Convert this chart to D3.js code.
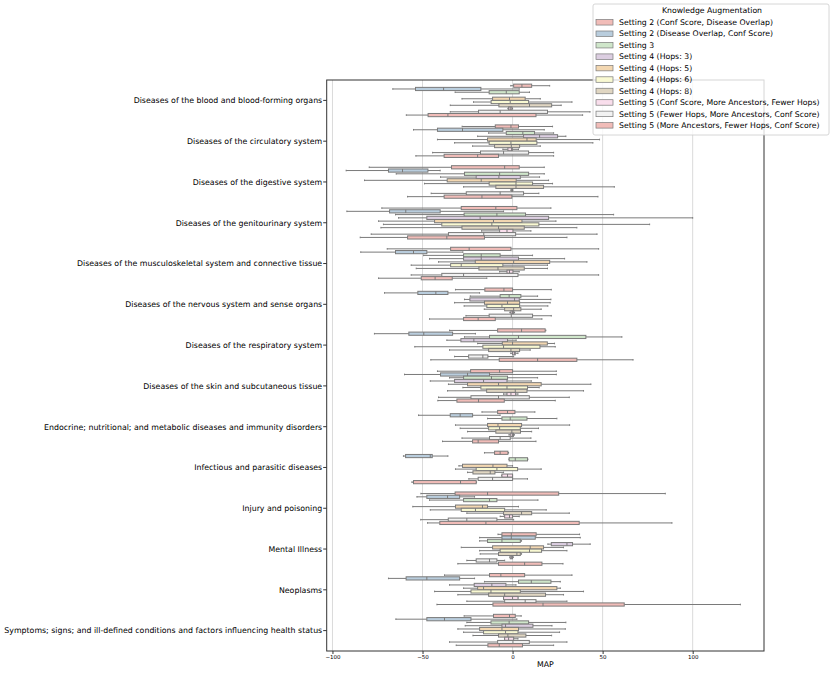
<!DOCTYPE html>
<html>
<head>
<meta charset="utf-8">
<script src="https://cdnjs.cloudflare.com/ajax/libs/d3/7.8.4/d3.min.js"></script>
<style>
body { margin: 0; background: #fff; }
svg text { font-family: "DejaVu Sans", sans-serif; fill: #000; }
</style>
</head>
<body>
<div id="chart"></div>
<script>
// categories on the y axis
const categories = [
  "Diseases of the blood and blood-forming organs",
  "Diseases of the circulatory system",
  "Diseases of the digestive system",
  "Diseases of the genitourinary system",
  "Diseases of the musculoskeletal system and connective tissue",
  "Diseases of the nervous system and sense organs",
  "Diseases of the respiratory system",
  "Diseases of the skin and subcutaneous tissue",
  "Endocrine; nutritional; and metabolic diseases and immunity disorders",
  "Infectious and parasitic diseases",
  "Injury and poisoning",
  "Mental Illness",
  "Neoplasms",
  "Symptoms; signs; and ill-defined conditions and factors influencing health status"
];

const hues = [
  "Setting 2 (Conf Score, Disease Overlap)",
  "Setting 2 (Disease Overlap, Conf Score)",
  "Setting 3",
  "Setting 4 (Hops: 3)",
  "Setting 4 (Hops: 5)",
  "Setting 4 (Hops: 6)",
  "Setting 4 (Hops: 8)",
  "Setting 5 (Conf Score, More Ancestors, Fewer Hops)",
  "Setting 5 (Fewer Hops, More Ancestors, Conf Score)",
  "Setting 5 (More Ancestors, Fewer Hops, Conf Score)"
];

// Pastel1, wraps round for the 10th level
const palette = ["#fbb4ae", "#b3cde3", "#ccebc5", "#decbe4", "#fed9a6",
                 "#ffffcc", "#e5d8bd", "#fddaec", "#f2f2f2", "#fbb4ae"];

// each entry: [whisker low, q1, median, q3, whisker high], one per category (null = no data)
const s2ConfOverlap = [
  [-1, 0.6, 5.2, 10.6, 20.6], [-28, -9.6, -0.9, 3.3, 22.2], [-79.6, -33.9, -4.4, 3.7, 17.6],
  [-72.6, -28.5, -9.3, 2.4, 21.3], [-69.6, -34.4, -24.1, -0.9, 47.8], [-31.7, -15.4, -4.8, 0, 21.5],
  [-35, -8.3, 5, 18.1, 18.5], [-41.7, -23.3, -7.2, 0, 24.3], [-17, -8.3, -2.8, 1.3, 12.4],
  [-15.6, -10, -6.9, -2.6, -2.2], [-50.9, -31.9, -13.9, 25.6, 84.8], [-8.1, -5.9, -0.7, 13.1, 37.2],
  [-37.8, -12.8, -6.5, 6.7, 33], [-26.9, -10.6, -1.7, 1.5, 4.8]
];
const s2OverlapConf = [
  [-66.5, -53.9, -38.3, -17.6, 3.7], [-55, -41.7, -27.8, -5.4, 17.6], [-92.4, -68.9, -61.1, -47, -40.2],
  [-92, -68.3, -59.3, -40.2, -5], [-84.3, -65, -55, -47.6, -27.6], [-71.1, -52.6, -42.6, -35.9, -18.3],
  [-76.7, -57.6, -49.3, -33.3, -20.6], [-60, -40, -25, -12.8, 24.3], [-52.2, -34.6, -29.1, -22.2, -6.9],
  [-60.6, -59.4, -45.7, -44.6, -35.9], [-53.1, -47.6, -36.1, -29.4, -21.1], [-18.3, -5.9, -0.7, 12.6, 37.6],
  [-68.9, -59.1, -47.6, -29.4, -21.1], [-64.8, -47.6, -37.8, -23.1, 2.4]
];
const s3 = [
  [-31.9, -13, -3.5, 3.7, 9.4], [-13.3, -3.5, 5.7, 12.2, 22.8], [-64.6, -26.7, -7.2, 8.9, 17.6],
  [-65, -26.9, -8.7, 7.2, 56.1], [-49.4, -27.2, -17.4, -6.9, 11.1], [-23.5, -6.9, -1.9, 4.6, 13.9],
  [-26.7, -12.8, 3.3, 40.7, 60.7], [-35, -27.2, -11.7, -2.8, 13.9], [-13.9, -5.9, -1.3, 8, 24.6],
  [-2, -1.9, 1.5, 8.3, 8.5], [-46.1, -27.2, -12.8, -8.7, 14.1], [-18.3, -13.9, -5.9, 4.3, 5],
  [-15.6, 3.3, 10.4, 21.3, 26.5], [-25.4, -12, -1.9, 8.9, 29.6]
];
const s4Hops3 = [
  null, [-19.4, 6.1, 15, 25, 29.6], [-40, -20.2, -7.6, 4.3, 15],
  [-63.3, -47.6, -18, 20, 100], [-46.1, -27.2, -17.4, 3.3, 28.9], [-26.7, -23.7, 1.1, 3.7, 21.3],
  [-36.5, -28.7, -21.5, -2.8, 2], [-45.7, -32.2, -16.1, -3.1, 10.4], null,
  null, null, [19.6, 21.5, 30.2, 33.3, 43.1],
  [-35, -21.3, -11.5, -3.7, 1.9], [-26.3, -5.9, -3.9, 11.3, 21.9]
];
const s4Hops5 = [
  [-28.1, -11.1, -1.7, 7, 15.4], [-41.7, -13.9, 8, 13.1, 48.3], [-82.2, -36.3, -17.4, 2, 20],
  [-74.4, -43.3, -10.6, 5.2, 24.1], [-41.1, -20.7, 0.6, 20.6, 41.3], [-32.2, -15.6, -2.8, 3.9, 20.9],
  [-19.4, -5.7, 0, 19.3, 23.3], [-35.6, -25, -7.8, 15.9, 43.5], [-31.7, -13.9, -8.1, 5, 31.7],
  [-29.8, -27.8, -10.9, -3.1, 0], [-55.4, -31.7, -16.7, -13.9, 3.3], [-28.5, -11.1, 9.8, 17.2, 28.3],
  [-27.2, -19.4, -16.1, 24.6, 26.5], [-30.4, -18.3, -5.9, 3.3, 29.3]
];
const s4Hops6 = [
  [-21.7, -11.9, -1.3, 8.9, 33], [-32.2, -13, -0.9, 13.5, 44.6], [-48.9, -13, 1.9, 11.1, 22.2],
  [-71.7, -39.3, -11.5, 14.6, 76.1], [-56.3, -34.4, -28.5, -5.4, 19.4], [-26.9, -14.3, -5.9, 3.9, 19.6],
  [-54.3, -16.5, -5, 15.2, 23.7], [-27.6, -17.6, -3.1, 8.3, 14.8], [-29.1, -13.3, -7.2, 4.3, 14.4],
  [-31.7, -20.2, -8.7, 2.8, 15.9], [-45.7, -28.5, -20.6, -4.4, 18.7], [-18.3, -6.9, 9.4, 16.1, 30.2],
  [-43.3, -23.1, -12, 4.3, 39.4], [-27.2, -16.1, -3.9, 3, 26.1]
];
const s4Hops8 = [
  [-34.6, -7.6, 9.4, 21.7, 27], [-22.2, -10, -0.7, 3.9, 15.4], [-27.2, -9.3, 1.9, 17.2, 56.5],
  [-73.1, -28.1, -7.8, 6.5, 35.7], [-53.5, -18.7, -8.1, 6.5, 19.4], [-15.7, -4.4, 0.6, 4.6, 15.9],
  [-35, -13.3, -0.9, 3.9, 9.8], [-36.1, -14.4, 1.5, 8, 39.4], [-25, -9.3, -0.4, 4.4, 10.6],
  [-25, -22, -12.4, -9.8, -5], [-25.4, -5, 5, 10.6, 31.5], [-18, -7.8, 2.4, 4.3, 5],
  [-30.4, -13.3, -4.4, 18.3, 28.3], [-22, -7.8, -2.6, 7.4, 21.7]
];
const s5ConfAncFewer = [
  [-2.6, -2.2, -1.3, -0.4, 0], [-5.4, -2.6, -0.5, -0.2, 3.3], [-1, -0.5, -0.2, 0, 0.2],
  [-17.2, -7.2, -3.1, 0.2, 10.2], [-7.2, -3.1, -1.7, 0.2, 3.7], [-1.5, -0.9, 0, 0.6, 1.1],
  [-1, 0, 1, 1.5, 3], [-5, -3.1, -0.9, 1.7, 3], [-2, -1, 0, 0.5, 1],
  [-6, -5.9, -2.8, 0, 0], [-6.9, -4.4, -1.7, 0, 3.7], [-1.5, -1.3, -0.5, 0, 0.4],
  [-5, -5, 0, 3, 3], [-4.4, -4.4, -2.2, 0.6, 3]
];
const s5FewerAncConf = [
  [-34.6, -18.9, -6.9, 19.4, 43], [-44.4, -17.8, -5, 8.9, 22.8], [-45.2, -25.7, -6.9, 6.1, 14.6],
  [-78.5, -35.6, -16, 1.7, 46.9], [-56.3, -39.3, -27.2, 3, 47.8], [-25.9, -13, -0.7, 11.1, 21.5],
  [-32.2, -24.4, -16.5, -13.7, 0.6], [-41.1, -23.1, -7.8, 9.3, 31.5], [-28.1, -12.8, -6.9, -1.3, 10.2],
  [-24.3, -19.1, -11.1, 0, 8.3], [-51, -35.7, -25.4, -8.7, 0.6], [-25.4, -20.2, -12.8, -8.7, -4.4],
  [-25.4, -4.4, 7, 13, 30.2], [-35, -8.3, 0.2, 9.3, 30.2]
];
const s5AncFewerConf = [
  [-59, -46.9, -35.9, 13, 38.9], [-53.7, -38, -19.4, -7.8, 22.8], [-58.3, -38, -17, -0.4, 47.4],
  [-84.6, -58.3, -36.5, -15.6, 30.2], [-74.4, -50.7, -43, -33.5, -14.3], [-46.1, -27.2, -19.1, -9.6, 16.3],
  [-45.4, -7.4, 13.9, 35.7, 66.9], [-41.5, -30.9, -18.9, -4.6, 23.7], [-38.9, -22.2, -19.1, -7.8, 13],
  [-55.9, -55, -28.9, -20.2, -20], [-47.2, -40.4, -14.8, 37, 88.5], [-30.4, -7.8, 6.7, 16.3, 28],
  [-42, -10.9, 16.9, 62, 126.5], [-31.3, -13.7, -7.4, 5.5, 22.8]
];

const xTicks = [-100, -50, 0, 50, 100];

const series = [s2ConfOverlap, s2OverlapConf, s3, s4Hops3, s4Hops5,
                s4Hops6, s4Hops8, s5ConfAncFewer, s5FewerAncConf, s5AncFewerConf];

// seaborn-style desaturation of the palette
const desat = c => { const h = d3.hsl(c); h.s *= 0.75; return h.formatHex(); };
const colors = palette.map(desat);
const lineGray = "#7a7a7a";

const width = 830, height = 673;
const plot = {left: 326.7, right: 764, top: 80, bottom: 651};

const svg = d3.select("#chart").append("svg")
  .attr("width", width)
  .attr("height", height);

const x = d3.scaleLinear().domain([-103.2, 139.6]).range([plot.left, plot.right]);
const y = d3.scaleBand().domain(categories).range([plot.top, plot.bottom]);
const yh = d3.scaleBand().domain(hues)
  .range([y.bandwidth() * 0.1, y.bandwidth() * 0.9]);

// grid
svg.append("g").selectAll("line").data(xTicks).join("line")
  .attr("x1", d => x(d)).attr("x2", d => x(d))
  .attr("y1", plot.top).attr("y2", plot.bottom)
  .attr("stroke", "#dadada").attr("stroke-width", 1);

// boxes
const rows = [];
series.forEach((s, hi) => s.forEach((v, ci) => {
  if (v) rows.push({cat: categories[ci], hue: hues[hi], color: colors[hi], v: v});
}));

const boxH = yh.bandwidth() * 0.98;
const g = svg.append("g");
rows.forEach(r => {
  const cy = y(r.cat) + yh(r.hue) + yh.bandwidth() / 2;
  const [lo, q1, med, q3, hi] = r.v;
  const bg = g.append("g").attr("stroke", lineGray).attr("stroke-width", 1);
  bg.append("line").attr("x1", x(lo)).attr("x2", x(q1)).attr("y1", cy).attr("y2", cy);
  bg.append("line").attr("x1", x(q3)).attr("x2", x(hi)).attr("y1", cy).attr("y2", cy);
  bg.append("line").attr("x1", x(lo)).attr("x2", x(lo)).attr("y1", cy - boxH / 4).attr("y2", cy + boxH / 4);
  bg.append("line").attr("x1", x(hi)).attr("x2", x(hi)).attr("y1", cy - boxH / 4).attr("y2", cy + boxH / 4);
  bg.append("rect")
    .attr("x", x(q1)).attr("y", cy - boxH / 2)
    .attr("width", Math.max(0.5, x(q3) - x(q1))).attr("height", boxH)
    .attr("fill", r.color);
  bg.append("line").attr("x1", x(med)).attr("x2", x(med)).attr("y1", cy - boxH / 2).attr("y2", cy + boxH / 2);
});

// frame
svg.append("rect")
  .attr("x", plot.left).attr("y", plot.top)
  .attr("width", plot.right - plot.left).attr("height", plot.bottom - plot.top)
  .attr("fill", "none").attr("stroke", "#333").attr("stroke-width", 1);

// x axis
const xAxis = svg.append("g")
  .attr("transform", `translate(0,${plot.bottom})`)
  .call(d3.axisBottom(x).tickValues(xTicks).tickSize(3).tickPadding(1.5)
        .tickFormat(d => d < 0 ? "\u2212" + Math.abs(d) : d));
xAxis.select(".domain").remove();
xAxis.selectAll("line").attr("stroke", "#333");
xAxis.selectAll("text").style("font-size", "5.5px").attr("fill", "#000");

svg.append("text")
  .attr("x", (plot.left + plot.right) / 2)
  .attr("y", 667)
  .attr("text-anchor", "middle")
  .style("font-size", "7.8px")
  .text("MAP");

// y axis
const yAxis = svg.append("g")
  .attr("transform", `translate(${plot.left},0)`)
  .call(d3.axisLeft(y).tickSize(3.5).tickPadding(1));
yAxis.select(".domain").remove();
yAxis.selectAll("line").attr("stroke", "#333");
yAxis.selectAll("text").style("font-size", "7.85px").attr("fill", "#000").attr("dy", "0.36em");

// legend
const leg = svg.append("g").attr("transform", "translate(593,4)");
leg.append("rect")
  .attr("width", 236).attr("height", 131).attr("rx", 2)
  .attr("fill", "#fff").attr("fill-opacity", 0.8)
  .attr("stroke", "#ccc").attr("stroke-width", 0.8);
leg.append("text")
  .attr("x", 119).attr("y", 9)
  .attr("text-anchor", "middle")
  .style("font-size", "7.75px")
  .text("Knowledge Augmentation");
const items = leg.selectAll("g.item").data(hues).join("g")
  .attr("class", "item")
  .attr("transform", (d, i) => `translate(3,${18.3 + i * 11.45})`);
items.append("rect")
  .attr("width", 17).attr("height", 5.5).attr("y", -2.75)
  .attr("fill", (d, i) => colors[i])
  .attr("stroke", lineGray).attr("stroke-width", 0.7);
items.append("text")
  .attr("x", 23).attr("dy", "0.35em")
  .style("font-size", "7.75px")
  .text(d => d);
</script>
</body>
</html>
